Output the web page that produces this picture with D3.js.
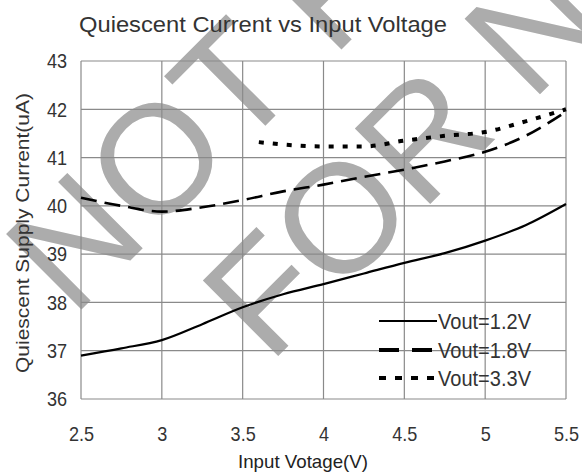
<!DOCTYPE html>
<html><head><meta charset="utf-8">
<script src="https://cdn.jsdelivr.net/npm/d3@7"></script>
<style>html,body{margin:0;padding:0;background:#fff}svg{display:block}</style>
</head><body>
<script>
const voltages = [2.5, 2.75, 3.0, 3.25, 3.5, 3.75, 4.0, 4.25, 4.5, 4.75, 5.0, 5.25, 5.5];
const vout12 = [36.9, 37.05, 37.22, 37.55, 37.9, 38.17, 38.38, 38.6, 38.82, 39.02, 39.28, 39.6, 40.04];
const vout18 = [40.17, 40.0, 39.88, 39.97, 40.12, 40.3, 40.44, 40.6, 40.75, 40.92, 41.12, 41.45, 41.95];
const voltages33 = [3.6, 3.75, 4.0, 4.25, 4.5, 4.75, 5.0, 5.25, 5.5];
const vout33 = [41.32, 41.27, 41.23, 41.23, 41.35, 41.45, 41.53, 41.75, 42.0];
const xTicks = [2.5, 3, 3.5, 4, 4.5, 5, 5.5];
const yTicks = [36, 37, 38, 39, 40, 41, 42, 43];
const seriesNames = ["Vout=1.2V", "Vout=1.8V", "Vout=3.3V"];
const watermark = ["NOT RECOMMENDED", "FOR NEW DESIGN"];

const W = 582, H = 476;
const m = {left: 81, right: 566, top: 61, bottom: 399};
const font = "'Liberation Sans', Arial, sans-serif";
const svg = d3.select("body").append("svg").attr("width", W).attr("height", H);
svg.append("rect").attr("width", W).attr("height", H).attr("fill", "#fff");

function condense(sel, f) {
  sel.each(function() {
    const L = this.getComputedTextLength();
    d3.select(this).attr("textLength", L * f).attr("lengthAdjust", "spacingAndGlyphs");
  });
}

// watermark (behind everything)
const wm = svg.append("g").attr("transform", "translate(57,334) rotate(-45)")
  .attr("font-family", font).attr("font-size", 155).attr("fill", "#acacac");
wm.append("text").attr("x", 22).attr("y", 0).text(watermark[0]);
wm.append("text").attr("x", 128).attr("y", 172).text(watermark[1]);

const x = d3.scaleLinear().domain([2.5, 5.5]).range([m.left, m.right]);
const y = d3.scaleLinear().domain([36, 43]).range([m.bottom, m.top]);

// grid
const grid = svg.append("g").attr("stroke", "#8a8a8a").attr("stroke-width", 1.2);
grid.selectAll("line.v").data(xTicks).join("line").attr("class","v")
  .attr("x1", d => x(d)).attr("x2", d => x(d)).attr("y1", m.top).attr("y2", m.bottom);
grid.selectAll("line.h").data(yTicks).join("line").attr("class","h")
  .attr("y1", d => y(d)).attr("y2", d => y(d)).attr("x1", m.left).attr("x2", m.right);

// axes
const xAxis = svg.append("g").attr("transform", `translate(0,${m.bottom})`)
  .call(d3.axisBottom(x).tickValues(xTicks).tickSize(0).tickPadding(27).tickFormat(d3.format("")));
const yAxis = svg.append("g").attr("transform", `translate(${m.left},0)`)
  .call(d3.axisLeft(y).tickValues(yTicks).tickSize(0).tickPadding(14).tickFormat(d3.format("")));
[xAxis, yAxis].forEach(a => {
  a.select(".domain").remove();
  a.selectAll("text").attr("font-family", font).attr("font-size", 21).attr("fill", "#333");
  condense(a.selectAll("text"), 0.86);
});

// lines
const line = (xs) => d3.line().x((d, i) => x(xs[i])).y(d => y(d)).curve(d3.curveMonotoneX);
svg.append("path").datum(vout12).attr("d", line(voltages)).attr("fill","none").attr("stroke","#000").attr("stroke-width", 2.2);
svg.append("path").datum(vout18).attr("d", line(voltages)).attr("fill","none").attr("stroke","#000").attr("stroke-width", 2.6).attr("stroke-dasharray", "16,8");
svg.append("path").datum(vout33).attr("d", line(voltages33)).attr("fill","none").attr("stroke","#000").attr("stroke-width", 4).attr("stroke-dasharray", "5,9");

// legend
const legY = [321, 350, 378];
const legStyles = [{dash:null,w:2.2},{dash:"20,13",w:4},{dash:"7,9",w:4}];
seriesNames.forEach((n, i) => {
  svg.append("line").attr("x1", 379).attr("x2", 437).attr("y1", legY[i]).attr("y2", legY[i])
    .attr("stroke", "#000").attr("stroke-width", legStyles[i].w).attr("stroke-dasharray", legStyles[i].dash);
  svg.append("text").attr("x", 438).attr("y", legY[i] + 8).attr("font-family", font).attr("font-size", 22)
    .attr("fill", "#333").attr("textLength", 93).attr("lengthAdjust", "spacingAndGlyphs").text(n);
});

// title
svg.append("text").attr("x", 263).attr("y", 32).attr("text-anchor", "middle").attr("font-family", font)
  .attr("font-size", 22).attr("fill", "#333").attr("textLength", 368).attr("lengthAdjust", "spacingAndGlyphs")
  .text("Quiescent Current vs Input Voltage");
// axis titles
svg.append("text").attr("x", 303).attr("y", 468).attr("text-anchor", "middle").attr("font-family", font)
  .attr("font-size", 19).attr("fill", "#222").attr("textLength", 130).attr("lengthAdjust", "spacingAndGlyphs")
  .text("Input Votage(V)");
svg.append("text").attr("transform", "translate(29,233) rotate(-90)").attr("text-anchor", "middle").attr("font-family", font)
  .attr("font-size", 19).attr("fill", "#333").attr("textLength", 280).attr("lengthAdjust", "spacingAndGlyphs")
  .text("Quiescent Supply Current(uA)");
</script>
</body></html>
